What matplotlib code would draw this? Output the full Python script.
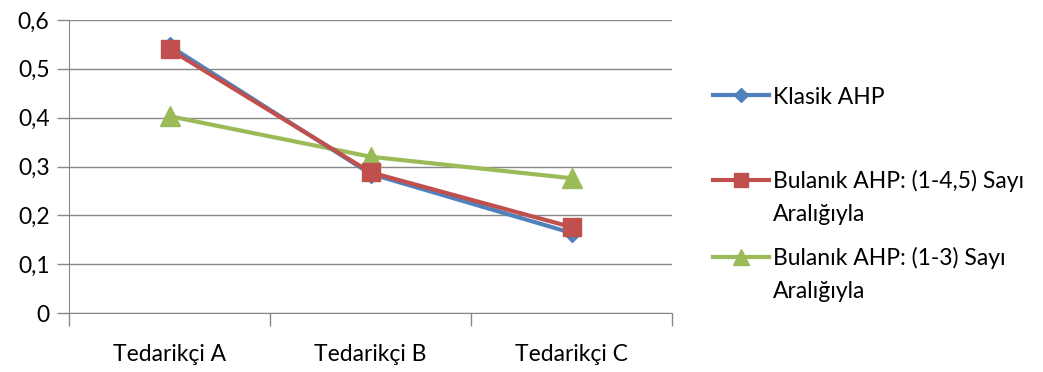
import matplotlib
matplotlib.use("Agg")
import matplotlib.pyplot as plt

# Data
categories = ["Tedarikçi A", "Tedarikçi B", "Tedarikçi C"]
klasik_ahp = [0.547, 0.285, 0.164]
bulanik_45 = [0.540, 0.288, 0.176]
bulanik_3 = [0.403, 0.320, 0.276]
y_ticks = [0, 0.1, 0.2, 0.3, 0.4, 0.5, 0.6]
y_tick_labels = ["0", "0,1", "0,2", "0,3", "0,4", "0,5", "0,6"]

plt.rcParams['font.family'] = ['Lato', 'DejaVu Sans']
FS = 16.5

fig = plt.figure(figsize=(10.43, 3.72), dpi=100)
ax = fig.add_axes([69/1043, 59/372, 603/1043, 293/372])

x = range(len(categories))
l1, = ax.plot(x, klasik_ahp, color='#4F81BD', lw=3, marker='D', ms=9, zorder=3)
l2, = ax.plot(x, bulanik_45, color='#C0504D', lw=3, marker='s', ms=13, zorder=4)
l3, = ax.plot(x, bulanik_3, color='#9BBB59', lw=3, marker='^', ms=14, zorder=2)

ax.set_xlim(-0.5, 2.5)
ax.set_ylim(0, 0.6)
ax.set_yticks(y_ticks)
ax.set_yticklabels(y_tick_labels)
ax.set_xticks([-0.5, 0.5, 1.5, 2.5])
ax.set_xticklabels([])
ax.set_xticks(list(x), minor=True)
ax.set_xticklabels(categories, minor=True)
ax.tick_params(axis='x', which='minor', length=0, pad=22, labelsize=FS)
ax.tick_params(axis='x', which='major', length=9, color='#888888', width=1)
ax.tick_params(axis='y', length=9, color='#888888', width=1, pad=5, labelsize=FS)
ax.yaxis.grid(True, color='#888888', lw=1)
ax.set_axisbelow(True)
for s in ['top', 'right']:
    ax.spines[s].set_visible(False)
for s in ['left', 'bottom']:
    ax.spines[s].set_color('#888888')

# Legend entries, one per series, with wrapped second lines
entries = [(l1, "Klasik AHP", 97, None),
           (l2, "Bulanık AHP: (1-4,5) Sayı", 181, "Aralığıyla"),
           (l3, "Bulanık AHP: (1-3) Sayı", 258, "Aralığıyla")]
for handle, label, ypix, extra in entries:
    fig.legend([handle], [label], loc='center left',
               bbox_to_anchor=(713/1043, 1 - ypix/372), frameon=False,
               fontsize=FS, handlelength=2.45, handletextpad=0.15,
               borderpad=0, borderaxespad=0, markerscale=0.8)
    if extra:
        fig.text(773/1043, 1 - (ypix + 33)/372, extra, fontsize=FS,
                 va='center', ha='left')

fig.savefig("out.png", dpi=100)
